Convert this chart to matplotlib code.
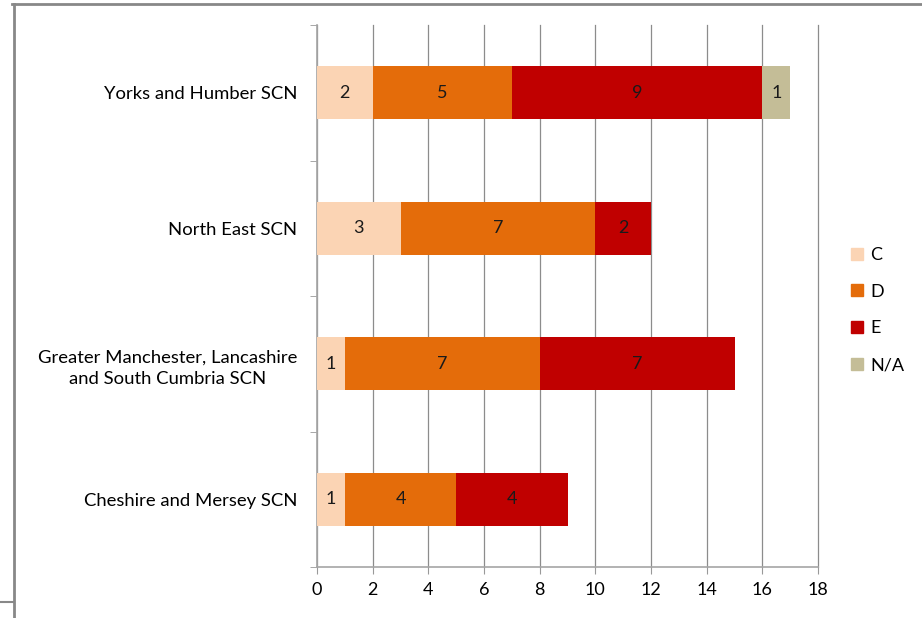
import matplotlib.pyplot as plt
import numpy as np
from matplotlib.lines import Line2D

# Dados
regioes = ["Cheshire and Mersey SCN",
           "Greater Manchester, Lancashire\nand South Cumbria SCN",
           "North East SCN",
           "Yorks and Humber SCN"]
serie_c = [1, 1, 3, 2]
serie_d = [4, 7, 7, 5]
serie_e = [4, 7, 2, 9]
serie_na = [0, 0, 0, 1]
nomes = ["C", "D", "E", "N/A"]
cores = ["#FBD4B4", "#E46C0A", "#C00000", "#C4BD97"]

plt.rcParams['font.family'] = ['Lato', 'DejaVu Sans']

fig = plt.figure(figsize=(9.22, 6.18), dpi=100)
ax = fig.add_axes([317/922, 1 - 567/618, 501/922, 542/618])

y = np.arange(len(regioes))
base = np.zeros(len(regioes))
for valores, nome, cor in zip([serie_c, serie_d, serie_e, serie_na], nomes, cores):
    valores = np.array(valores, dtype=float)
    ax.barh(y, valores, left=base, height=0.39, color=cor, label=nome, zorder=3)
    for yi, v, b in zip(y, valores, base):
        if v > 0:
            ax.text(b + v / 2, yi, str(int(v)), ha='center', va='center',
                    fontsize=13, color='#1a1a1a', zorder=4)
    base += valores

ax.set_xlim(0, 18)
ax.set_ylim(-0.5, 3.5)
ax.set_xticks(range(0, 19, 2))
ax.set_yticks(y)
ax.set_yticklabels(regioes, fontsize=13.3, ha='right', multialignment='center',
                   linespacing=1.45)
ax.tick_params(axis='y', length=0, pad=14)
ax.set_yticks(np.arange(-0.5, 4, 1), minor=True)
ax.tick_params(axis='y', which='minor', length=5, color='#999999')
ax.tick_params(axis='x', length=5, color='#999999', labelsize=13, pad=6)
ax.grid(axis='x', color='#8c8c8c', linewidth=0.9, zorder=0)
for linha in ax.get_xgridlines():
    linha.set_clip_on(False)
for s in ['top', 'right']:
    ax.spines[s].set_visible(False)
for s in ['left', 'bottom']:
    ax.spines[s].set_color('#a6a6a6')
    ax.spines[s].set_linewidth(1.2)

handles = [Line2D([], [], marker='s', linestyle='none', markersize=9,
                  markerfacecolor=c, markeredgecolor=c) for c in cores]
fig.legend(handles, nomes, loc='center left', bbox_to_anchor=(832/922, 1 - 310/618),
           frameon=False, fontsize=13, handletextpad=0.2, labelspacing=1.15,
           handlelength=1.0)

# moldura
fig.add_artist(Line2D([12/922, 1], [1 - 4/618, 1 - 4/618], color='#888888', linewidth=2))
fig.add_artist(Line2D([14/922, 14/922], [0, 1 - 4/618], color='#888888', linewidth=2))
fig.add_artist(Line2D([0, 14/922], [1 - 602/618, 1 - 602/618], color='#888888', linewidth=1.5))

fig.savefig("out.png", dpi=100)
